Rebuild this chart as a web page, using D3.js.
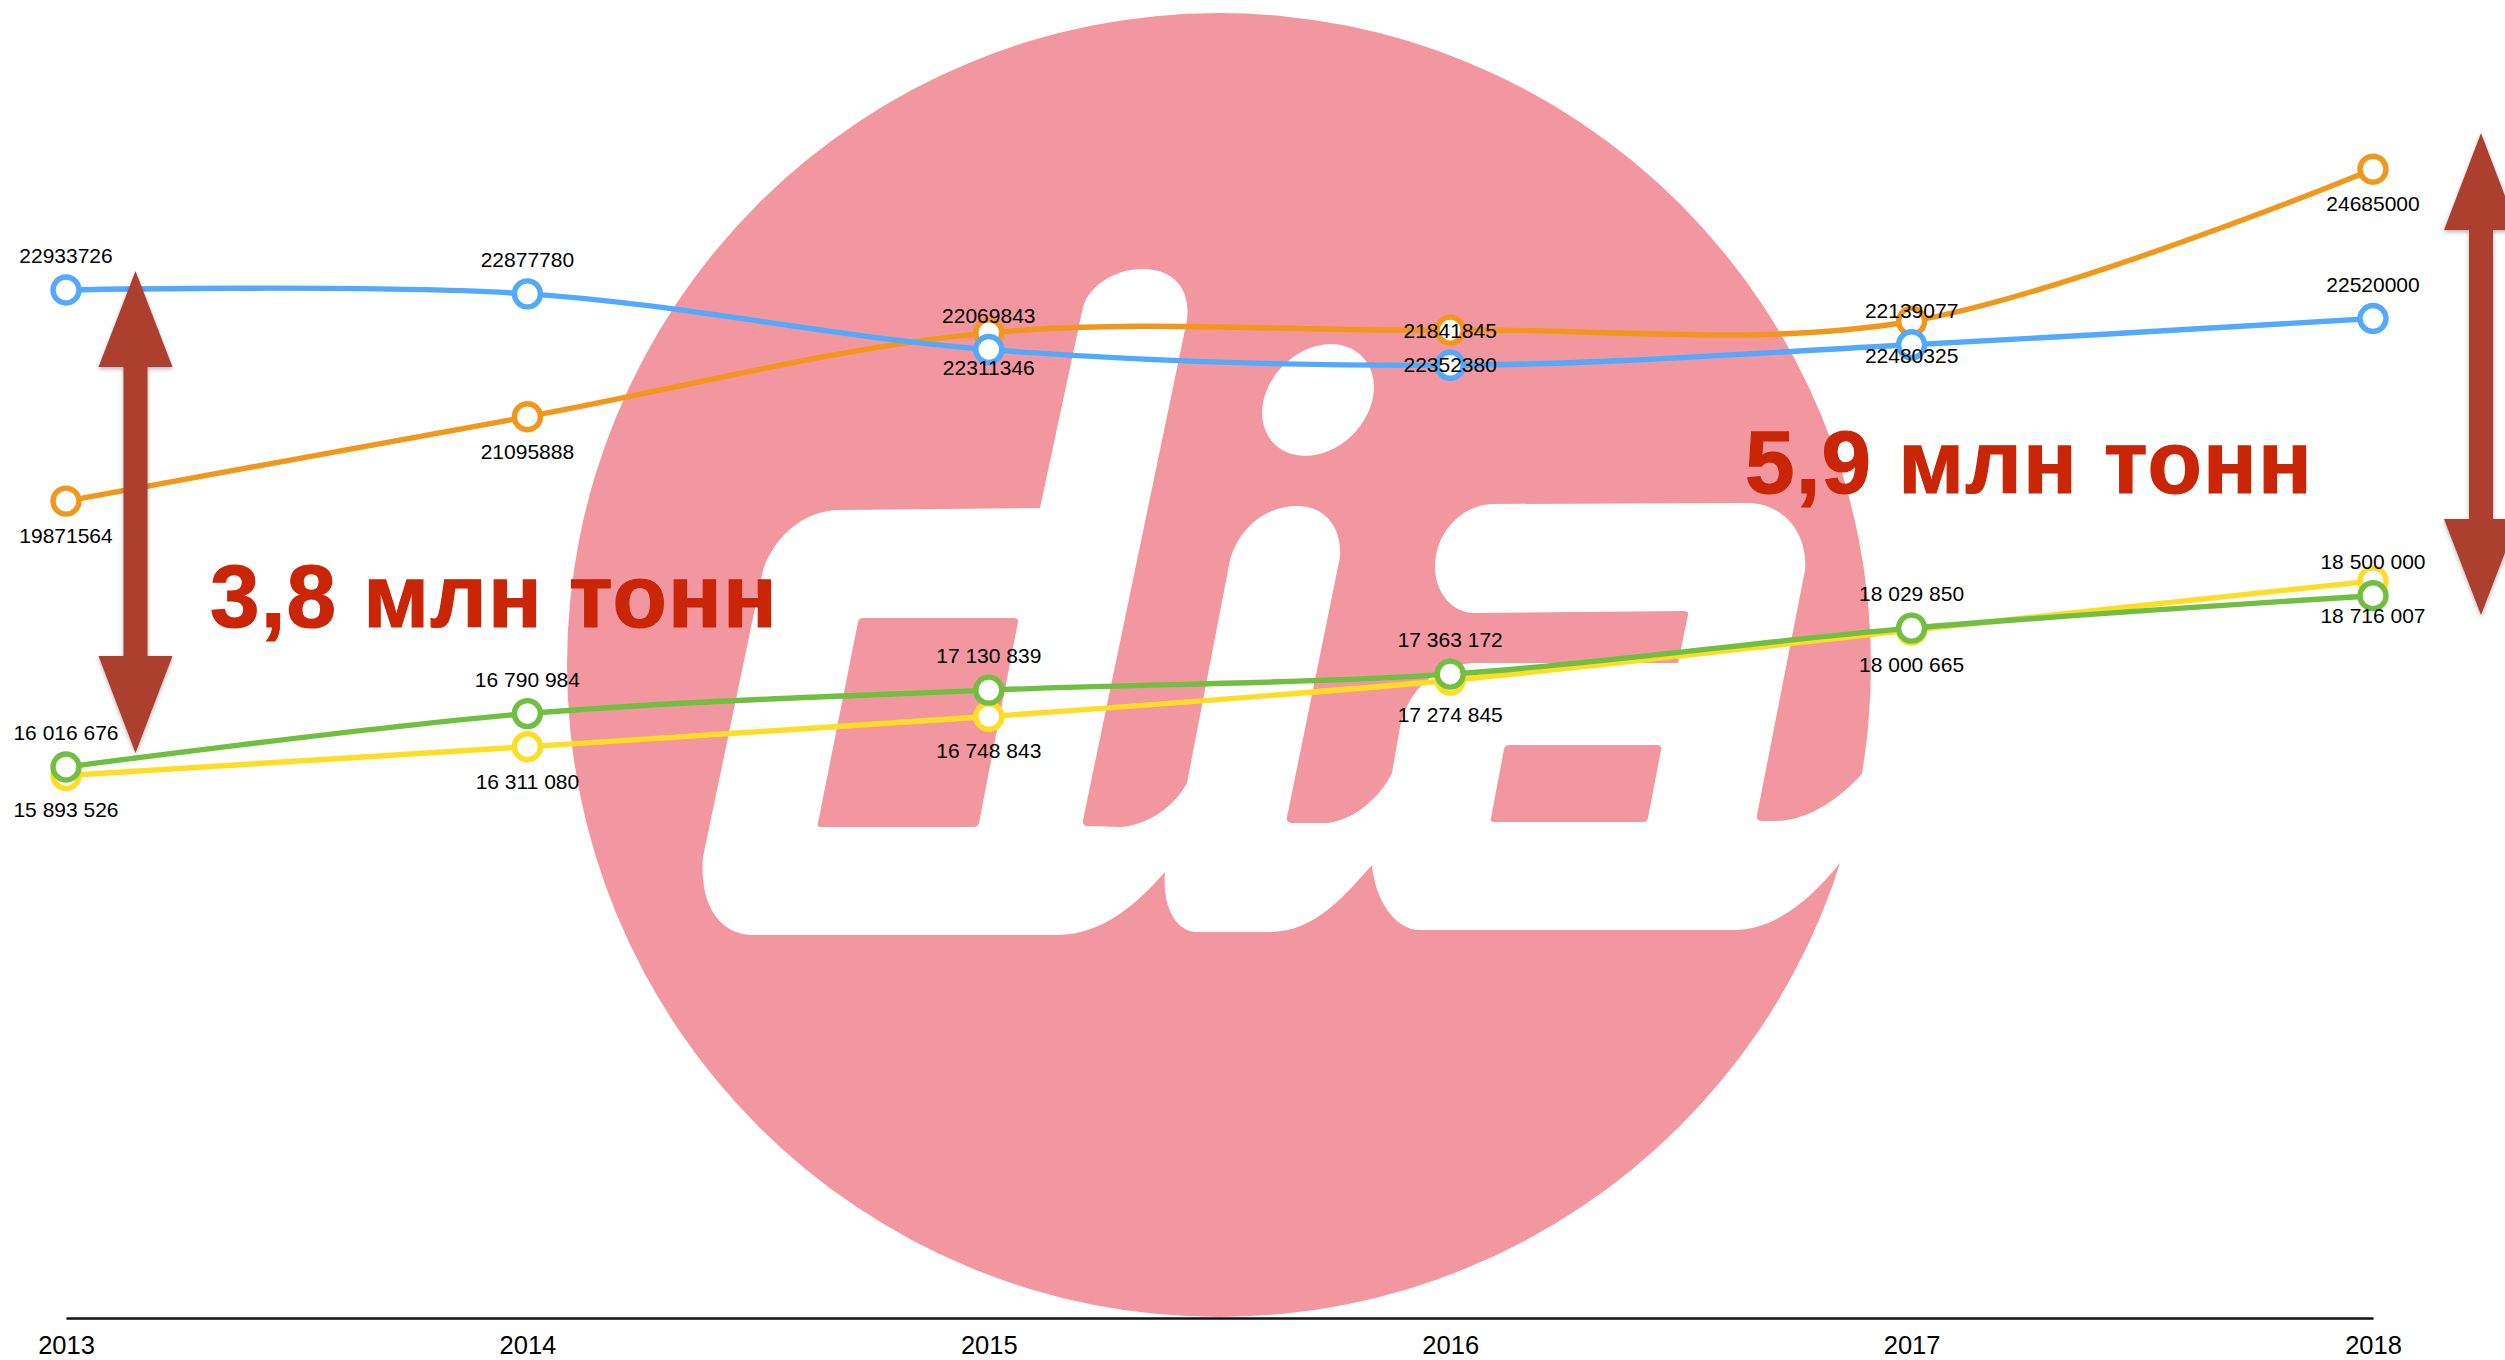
<!DOCTYPE html>
<html>
<head>
<meta charset="utf-8">
<title>dia</title>
<script src="https://cdn.jsdelivr.net/npm/d3@7"></script>
<style>
    html, body { margin: 0; padding: 0; background: #fff; }
    svg { display: block; }
    text { font-family: "Liberation Sans", Arial, sans-serif; fill: #000; }
    .axis path { stroke: #111; stroke-width: 2.6; }
    .axis text { font-size: 25.5px; }
    .value { font-size: 21px; text-anchor: middle; }
    .big { font-size: 89px; font-weight: bold; fill: #c92506; stroke: #c92506; stroke-width: 1.2; letter-spacing: 1.2px; }
    .arrow { fill: #ad3f2f; filter: drop-shadow(0 2px 2px rgba(0,0,0,.3)); }
</style>
</head>
<body>
<div id="chart"></div>
<script>
var years = [2013, 2014, 2015, 2016, 2017, 2018];
var blueValues = [22933726, 22877780, 22069843, 21841845, 22139077, 22520000];
var orangeValues = [19871564, 21095888, 22311346, 22352380, 22480325, 24685000];
var greenValues = [16016676, 16790984, 17130839, 17363172, 18029850, 18500000];
var yellowValues = [15893526, 16311080, 16748843, 17274845, 18000665, 18716007];

var width = 2505, height = 1360;
var axisY = 1318;

var spaced = d3.formatLocale({decimal: ".", thousands: " ", grouping: [3], currency: ["", ""]}).format(",");
var plain = d3.format("d");

// labels above sit 27px over the point, labels below 42px under it
var series = [
    {values: orangeValues, color: "#f1981c", format: plain, offset: 42},
    {values: blueValues, color: "#53a9fc", format: plain, offset: -27},
    {values: yellowValues, color: "#fedd26", format: spaced, offset: 42},
    {values: greenValues, color: "#70bf41", format: spaced, offset: -27}
];

var x = d3.scalePoint().domain(years).range([66, 2373]);
var y = d3.scaleLinear().domain([8000000, 25000000]).range([1319.8, 147.5]);

var svg = d3.select("#chart").append("svg")
    .attr("width", width)
    .attr("height", height);

// logo behind the chart
var logo = svg.append("g");
logo.append("circle")
    .attr("cx", 1219).attr("cy", 665).attr("r", 652)
    .attr("fill", "#f2979f");
logo.append("path")
    .attr("fill", "#fff")
    .attr("d", "M1143,269 C1170,269 1191,285 1187,320 L1083,820 Q1082,827 1090,826 L1120,827 "
        + "C1150,825 1175,805 1187,783 L1230,560 C1240,525 1268,506 1297,506 C1325,506 1342,527 1340,557 "
        + "L1287,817 Q1286,823 1292,823 L1327,823 C1355,820 1380,797 1392,773 L1400,727 "
        + "C1408,690 1435,665 1473,663 L1678,663 L1688,615 Q1689,611 1684,611 L1473,613 "
        + "C1450,612 1435,590 1435,567 C1435,530 1465,504 1493,504 L1747,503 C1785,503 1808,535 1805,570 "
        + "L1757,815 Q1756,821 1762,821 L1777,821 C1810,820 1840,798 1863,773 L1905,773 L1900,863 L1840,863 "
        + "C1810,900 1775,930 1733,930 L1420,930 C1395,930 1375,900 1372,865 C1345,895 1315,932 1270,932 "
        + "L1197,932 C1175,932 1162,905 1165,872 C1140,900 1105,935 1057,935 L753,935 C722,935 699,908 703,857 "
        + "L763,570 C775,535 805,510 840,510 L1040,508 L1083,307 C1090,285 1115,269 1143,269 Z");
logo.append("path")
    .attr("fill", "#f2979f")
    .attr("d", "M863,618 L1014,618 Q1019,618 1018,622 L979,823 Q978,827 974,827 L821,827 Q817,827 818,823 L858,622 Q859,618 863,618 Z");
logo.append("path")
    .attr("fill", "#f2979f")
    .attr("d", "M1509,745 L1657,745 Q1662,745 1661,750 L1648,818 Q1647,822 1643,822 L1494,822 Q1490,822 1491,818 L1504,749 Q1505,745 1509,745 Z");
logo.append("ellipse")
    .attr("cx", 0).attr("cy", 0).attr("rx", 62).attr("ry", 49)
    .attr("transform", "translate(1318,400) rotate(-45)")
    .attr("fill", "#fff");

var xAxis = d3.axisBottom(x).tickSize(0).tickPadding(18);
svg.append("g")
    .attr("class", "axis")
    .attr("transform", "translate(0," + axisY + ")")
    .call(xAxis);

var line = d3.line()
    .x(function(d, i) { return x(years[i]); })
    .y(function(d) { return y(d); })
    .curve(d3.curveCatmullRom.alpha(0.5));

var lines = svg.selectAll(".series")
    .data(series)
    .enter().append("g")
    .attr("class", "series");

lines.append("path")
    .attr("d", function(s) { return line(s.values); })
    .attr("fill", "none")
    .attr("stroke", function(s) { return s.color; })
    .attr("stroke-width", 5.4);

lines.selectAll("circle")
    .data(function(s) { return s.values.map(function(v, i) { return {v: v, year: years[i], color: s.color}; }); })
    .enter().append("circle")
    .attr("cx", function(d) { return x(d.year); })
    .attr("cy", function(d) { return y(d.v); })
    .attr("r", 13)
    .attr("fill", "#fff")
    .attr("stroke", function(d) { return d.color; })
    .attr("stroke-width", 5.4);

// double arrows showing the gap
function arrow(cx, top, headTop, headBottom, bottom) {
    var p = d3.path();
    p.moveTo(cx, top);
    p.lineTo(cx + 37, headTop);
    p.lineTo(cx + 12, headTop);
    p.lineTo(cx + 12, headBottom);
    p.lineTo(cx + 37, headBottom);
    p.lineTo(cx, bottom);
    p.lineTo(cx - 37, headBottom);
    p.lineTo(cx - 12, headBottom);
    p.lineTo(cx - 12, headTop);
    p.lineTo(cx - 37, headTop);
    p.closePath();
    return p.toString();
}
svg.append("path").attr("class", "arrow").attr("d", arrow(135.5, 271, 367, 656, 753));
svg.append("path").attr("class", "arrow").attr("d", arrow(2481, 133, 230, 519, 615));

var labels = svg.append("g");
series.forEach(function(s) {
    labels.selectAll(null)
        .data(s.values)
        .enter().append("text")
        .attr("class", "value")
        .attr("x", function(d, i) { return x(years[i]); })
        .attr("y", function(d) { return y(d) + s.offset; })
        .text(function(d) { return s.format(d); });
});

svg.append("text").attr("class", "big").attr("x", 210).attr("y", 627).text("3,8 млн тонн");
svg.append("text").attr("class", "big").attr("x", 1745).attr("y", 493).text("5,9 млн тонн");
</script>
</body>
</html>
